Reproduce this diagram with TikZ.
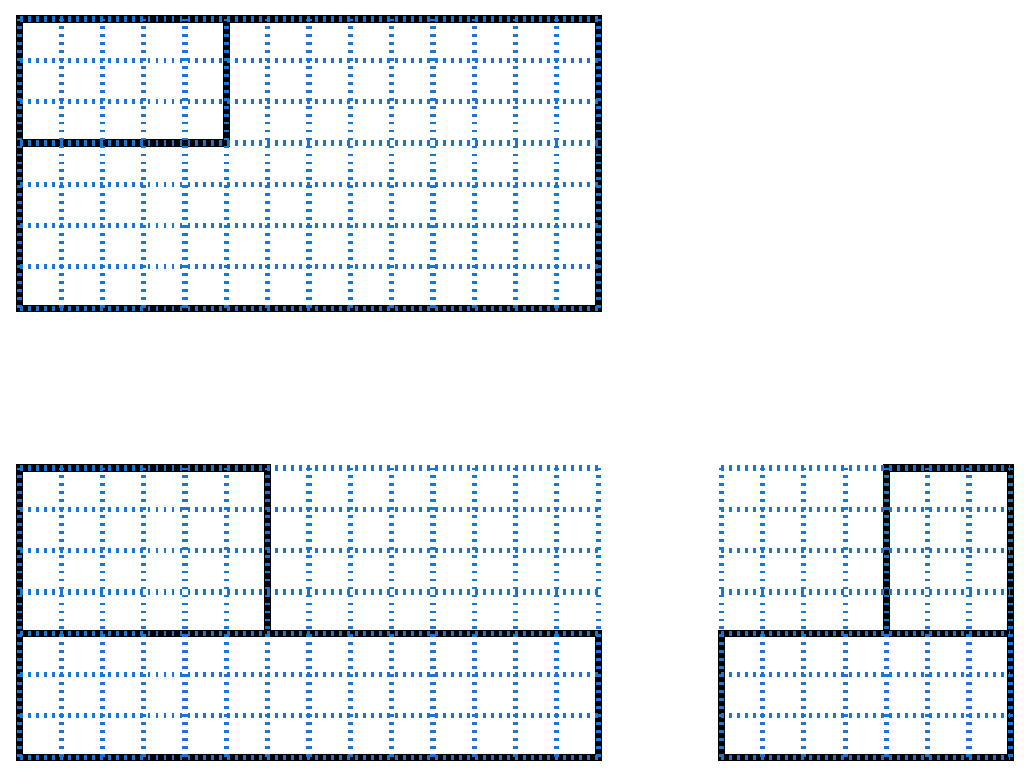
\documentclass[tikz,border=0pt]{standalone}
\usepackage{tikz}
\usetikzlibrary{positioning}

\definecolor{gridblue}{RGB}{25,118,210}

\begin{document}
\begin{tikzpicture}
    \tikzset{
        gridline/.style = {draw=gridblue, line width=3.6pt, dash pattern=on 2pt off 3.5pt},
        border/.style = {draw=black, line width=5pt},
    }

    \useasboundingbox (0,0) rectangle (24.79,18.74);

    % top panel
    \begin{scope}[shift={(0.48,11.28)}]
        \draw[border] (0,0) rectangle (14,7);
        \draw[border] (0,4) rectangle (5,7);
        \draw[gridline] (0,0) grid (14,7);
    \end{scope}

    % bottom left panel
    \begin{scope}[shift={(0.48,0.41)}]
        \draw[border] (0,3) rectangle (6,7);
        \draw[border] (0,0) rectangle (14,3);
        \draw[gridline] (0,0) grid (14,7);
    \end{scope}

    % bottom right panel
    \begin{scope}[shift={(17.46,0.41)}]
        \draw[border] (4,3) rectangle (7,7);
        \draw[border] (0,0) rectangle (7,3);
        \draw[gridline] (0,0) grid (7,7);
    \end{scope}

\end{tikzpicture}
\end{document}
